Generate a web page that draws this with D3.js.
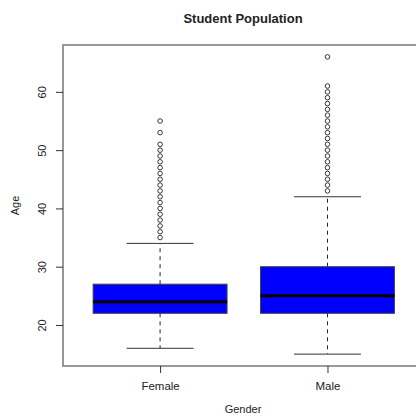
<!DOCTYPE html>
<html>
<head>
<meta charset="utf-8">
<script src="https://cdn.jsdelivr.net/npm/d3@7"></script>
<style>
  body { margin: 0; background: #fff; }
  text { font-family: "Liberation Sans", Arial, sans-serif; fill: #222; }
</style>
</head>
<body>
<div id="chart"></div>
<script>
// datos
const genders = ["Female", "Male"];
const q1 = [22, 22];
const medians = [24, 25];
const q3 = [27, 30];
const whiskLow = [16, 15];
const whiskHigh = [34, 42];
const outliersFemale = [35, 36, 37, 38, 39, 40, 41, 42, 43, 44, 45, 46, 47, 48, 49, 50, 51, 53, 55];
const outliersMale = [43, 44, 45, 46, 47, 48, 49, 50, 51, 52, 53, 54, 55, 56, 57, 58, 59, 60, 61, 66];
const yTicks = [20, 30, 40, 50, 60];

const W = 416, H = 416;
const mLeft = 63, mTop = 45, mBottom = 366;

const svg = d3.select("#chart")
  .append("svg")
  .attr("width", W)
  .attr("height", H);

// escala x continua como en R (posiciones 1 y 2)
const x = d3.scaleLinear().domain([0.42, 2.58]).range([mLeft, mLeft + 2.16 * 167.4]);
const y = d3.scaleLinear().domain([12.96, 68.04]).range([mBottom, mTop]);

const datos = genders.map((g, i) => ({
  gender: g, pos: i + 1,
  q1: q1[i], med: medians[i], q3: q3[i],
  lo: whiskLow[i], hi: whiskHigh[i],
  out: i == 0 ? outliersFemale : outliersMale
}));

const g = svg.append("g");

// bigotes punteados
g.selectAll(".whisk-up").data(datos).join("line")
  .attr("x1", d => x(d.pos)).attr("x2", d => x(d.pos))
  .attr("y1", d => y(d.q3)).attr("y2", d => y(d.hi))
  .attr("stroke", "#222").attr("stroke-dasharray", "4,4");
g.selectAll(".whisk-lo").data(datos).join("line")
  .attr("x1", d => x(d.pos)).attr("x2", d => x(d.pos))
  .attr("y1", d => y(d.q1)).attr("y2", d => y(d.lo))
  .attr("stroke", "#222").attr("stroke-dasharray", "4,4");

// topes
["hi", "lo"].forEach(k => {
  g.selectAll(".cap-" + k).data(datos).join("line")
    .attr("class", "cap-" + k)
    .attr("x1", d => x(d.pos - 0.2)).attr("x2", d => x(d.pos + 0.2))
    .attr("y1", d => y(d[k])).attr("y2", d => y(d[k]))
    .attr("stroke", "#333");
});

// cajas
g.selectAll("rect").data(datos).join("rect")
  .attr("x", d => x(d.pos - 0.4))
  .attr("width", d => x(d.pos + 0.4) - x(d.pos - 0.4))
  .attr("y", d => y(d.q3))
  .attr("height", d => y(d.q1) - y(d.q3))
  .attr("fill", "#0000ff")
  .attr("stroke", "#444");

// medianas
g.selectAll(".med").data(datos).join("line")
  .attr("class", "med")
  .attr("x1", d => x(d.pos - 0.4)).attr("x2", d => x(d.pos + 0.4))
  .attr("y1", d => y(d.med)).attr("y2", d => y(d.med))
  .attr("stroke", "#000").attr("stroke-width", 3);

// outliers
datos.forEach(d => {
  g.append("g").selectAll("circle").data(d.out).join("circle")
    .attr("cx", x(d.pos)).attr("cy", v => y(v))
    .attr("r", 2.3)
    .attr("fill", "none").attr("stroke", "#222").attr("stroke-width", 0.9);
});

// marco
svg.append("rect")
  .attr("x", mLeft).attr("y", mTop)
  .attr("width", x(2.58) - mLeft).attr("height", mBottom - mTop)
  .attr("fill", "none").attr("stroke", "#777").attr("stroke-width", 1.5);

// eje y
const yAxis = svg.append("g").attr("transform", `translate(${mLeft},0)`)
  .call(d3.axisLeft(y).tickValues(yTicks).tickSize(7));
yAxis.select(".domain").remove();
yAxis.selectAll("line").attr("stroke", "#333");
yAxis.selectAll("text")
  .attr("font-size", 11).attr("fill", "#333")
  .attr("text-anchor", "middle")
  .attr("x", 0).attr("y", 0).attr("dy", null)
  .attr("transform", "translate(-17,0) rotate(-90)");

// eje x
const xAxis = svg.append("g").attr("transform", `translate(0,${mBottom})`)
  .call(d3.axisBottom(x).tickValues([1, 2]).tickFormat((d, i) => genders[i]).tickSize(7).tickPadding(9));
xAxis.select(".domain").remove();
xAxis.selectAll("line").attr("stroke", "#333");
xAxis.selectAll("text").attr("font-size", 11.5).attr("fill", "#333");

// titulos
svg.append("text")
  .attr("x", 243).attr("y", 23)
  .attr("text-anchor", "middle")
  .attr("font-size", 13).attr("font-weight", "bold")
  .text("Student Population");

svg.append("text")
  .attr("x", 243).attr("y", 413)
  .attr("text-anchor", "middle")
  .attr("font-size", 11).attr("fill", "#333")
  .text("Gender");

svg.append("text")
  .attr("transform", `translate(19,${(mTop + mBottom) / 2}) rotate(-90)`)
  .attr("text-anchor", "middle")
  .attr("font-size", 11).attr("fill", "#333")
  .text("Age");
</script>
</body>
</html>
